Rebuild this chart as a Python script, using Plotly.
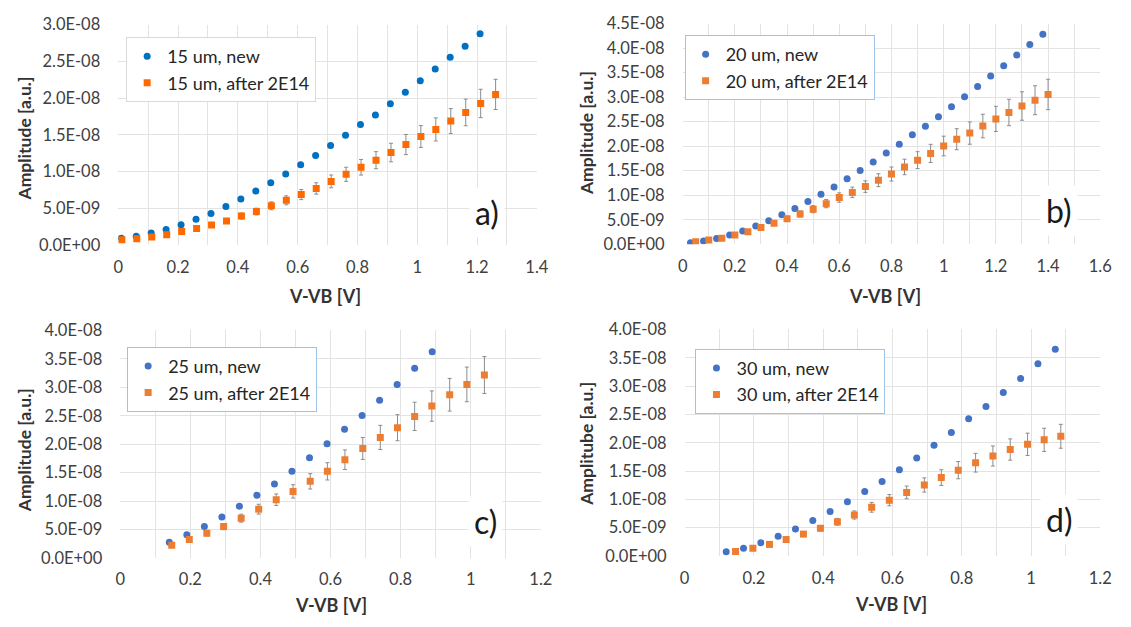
import plotly.graph_objects as go

# ---------------- data ----------------
# panel a) 15 um
a_new_x = [0.01, 0.06, 0.11, 0.16, 0.21, 0.26, 0.31, 0.36, 0.41, 0.46, 0.51, 0.56, 0.61,
           0.66, 0.71, 0.76, 0.81, 0.86, 0.91, 0.96, 1.01, 1.06, 1.11, 1.16, 1.21]
a_new_y = [0.96e-9, 1.22e-9, 1.66e-9, 2.14e-9, 2.79e-9, 3.53e-9, 4.32e-9, 5.28e-9, 6.28e-9,
           7.37e-9, 8.50e-9, 9.68e-9, 10.95e-9, 12.21e-9, 13.56e-9, 14.96e-9, 16.40e-9,
           17.71e-9, 19.23e-9, 20.80e-9, 22.37e-9, 23.94e-9, 25.56e-9, 27.04e-9, 28.74e-9]
a_irr_x = [0.012, 0.062, 0.112, 0.162, 0.212, 0.262, 0.312, 0.362, 0.412, 0.462, 0.512, 0.562,
           0.612, 0.662, 0.712, 0.762, 0.812, 0.862, 0.912, 0.962, 1.012, 1.062, 1.112, 1.162,
           1.212, 1.262]
a_irr_y = [0.74e-9, 0.87e-9, 1.13e-9, 1.44e-9, 1.88e-9, 2.27e-9, 2.75e-9, 3.31e-9, 3.97e-9,
           4.58e-9, 5.36e-9, 6.11e-9, 6.89e-9, 7.72e-9, 8.68e-9, 9.64e-9, 10.60e-9, 11.56e-9,
           12.60e-9, 13.69e-9, 14.78e-9, 15.74e-9, 16.88e-9, 18.05e-9, 19.27e-9, 20.50e-9]
a_irr_err = [0.07e-9, 0.09e-9, 0.11e-9, 0.14e-9, 0.19e-9, 0.23e-9, 0.28e-9, 0.33e-9, 0.40e-9,
             0.46e-9, 0.54e-9, 0.61e-9, 0.69e-9, 0.77e-9, 0.87e-9, 0.96e-9, 1.06e-9, 1.16e-9,
             1.26e-9, 1.37e-9, 1.48e-9, 1.57e-9, 1.69e-9, 1.81e-9, 1.93e-9, 2.05e-9]

# panel b) 20 um
b_new_x = [0.03, 0.08, 0.13, 0.18, 0.23, 0.28, 0.33, 0.38, 0.43, 0.48, 0.53, 0.58, 0.63, 0.68,
           0.73, 0.78, 0.83, 0.88, 0.93, 0.98, 1.03, 1.08, 1.13, 1.18, 1.23, 1.28, 1.33, 1.38]
b_new_y = [0.33e-9, 0.66e-9, 1.18e-9, 1.91e-9, 2.69e-9, 3.75e-9, 4.80e-9, 6.04e-9, 7.29e-9,
           8.74e-9, 10.18e-9, 11.70e-9, 13.34e-9, 15.05e-9, 16.75e-9, 18.59e-9, 20.37e-9,
           22.34e-9, 24.05e-9, 26.02e-9, 28.06e-9, 30.09e-9, 32.19e-9, 34.30e-9, 36.40e-9,
           38.57e-9, 40.74e-9, 42.84e-9]
b_irr_x = [0.05, 0.10, 0.15, 0.20, 0.25, 0.30, 0.35, 0.40, 0.45, 0.50, 0.55, 0.60, 0.65, 0.70,
           0.75, 0.80, 0.85, 0.90, 0.95, 1.00, 1.05, 1.10, 1.15, 1.20, 1.25, 1.30, 1.35, 1.40]
b_irr_y = [0.53e-9, 0.85e-9, 1.25e-9, 1.91e-9, 2.56e-9, 3.42e-9, 4.27e-9, 5.19e-9, 6.18e-9,
           7.16e-9, 8.28e-9, 9.53e-9, 10.58e-9, 11.76e-9, 13.07e-9, 14.32e-9, 15.77e-9,
           17.15e-9, 18.53e-9, 20.04e-9, 21.42e-9, 22.67e-9, 24.11e-9, 25.56e-9, 26.87e-9,
           28.19e-9, 29.37e-9, 30.55e-9]
b_irr_err = [0.05e-9, 0.09e-9, 0.13e-9, 0.19e-9, 0.26e-9, 0.34e-9, 0.43e-9, 0.52e-9, 0.62e-9,
             0.72e-9, 0.83e-9, 0.95e-9, 1.06e-9, 1.18e-9, 1.31e-9, 1.43e-9, 1.58e-9, 1.72e-9,
             1.85e-9, 2.00e-9, 2.14e-9, 2.27e-9, 2.41e-9, 2.56e-9, 2.69e-9, 2.90e-9, 2.95e-9,
             3.10e-9]

# panel c) 25 um
c_new_x = [0.14, 0.19, 0.24, 0.29, 0.34, 0.39, 0.44, 0.49, 0.54, 0.59, 0.64, 0.69, 0.74, 0.79,
           0.84, 0.89]
c_new_y = [2.78e-9, 4.09e-9, 5.51e-9, 7.22e-9, 9.09e-9, 11.02e-9, 13.01e-9, 15.23e-9,
           17.61e-9, 20.06e-9, 22.61e-9, 25.06e-9, 27.73e-9, 30.51e-9, 33.35e-9, 36.25e-9]
c_irr_x = [0.147, 0.197, 0.247, 0.295, 0.345, 0.395, 0.445, 0.493, 0.542, 0.591, 0.641, 0.692,
           0.742, 0.791, 0.840, 0.889, 0.940, 0.989, 1.039]
c_irr_y = [2.22e-9, 3.24e-9, 4.32e-9, 5.51e-9, 6.99e-9, 8.58e-9, 10.23e-9, 11.70e-9, 13.47e-9,
           15.23e-9, 17.27e-9, 19.26e-9, 21.19e-9, 22.90e-9, 24.89e-9, 26.70e-9, 28.69e-9,
           30.51e-9, 32.16e-9]
c_irr_err = [0.22e-9, 0.32e-9, 0.43e-9, 0.55e-9, 0.70e-9, 0.86e-9, 1.02e-9, 1.17e-9, 1.35e-9,
             1.52e-9, 1.73e-9, 1.93e-9, 2.12e-9, 2.29e-9, 2.49e-9, 2.67e-9, 2.87e-9, 3.05e-9,
             3.25e-9]

# panel d) 30 um
d_new_x = [0.12, 0.17, 0.22, 0.27, 0.32, 0.37, 0.42, 0.47, 0.52, 0.57, 0.62, 0.67, 0.72, 0.77,
           0.82, 0.87, 0.92, 0.97, 1.02, 1.07]
d_new_y = [0.74e-9, 1.37e-9, 2.34e-9, 3.48e-9, 4.79e-9, 6.27e-9, 7.86e-9, 9.57e-9, 11.40e-9,
           13.16e-9, 15.21e-9, 17.32e-9, 19.54e-9, 21.82e-9, 24.22e-9, 26.38e-9, 28.89e-9,
           31.34e-9, 33.96e-9, 36.52e-9]
d_irr_x = [0.147, 0.197, 0.245, 0.293, 0.343, 0.392, 0.441, 0.490, 0.540, 0.591, 0.641, 0.692,
           0.741, 0.790, 0.840, 0.890, 0.940, 0.990, 1.038, 1.086]
d_irr_y = [0.80e-9, 1.37e-9, 2.05e-9, 2.91e-9, 3.87e-9, 4.90e-9, 6.04e-9, 7.24e-9, 8.60e-9,
           9.86e-9, 11.23e-9, 12.54e-9, 13.85e-9, 15.16e-9, 16.47e-9, 17.66e-9, 18.80e-9,
           19.72e-9, 20.51e-9, 21.14e-9]
d_irr_err = [0.08e-9, 0.14e-9, 0.21e-9, 0.29e-9, 0.39e-9, 0.49e-9, 0.60e-9, 0.72e-9, 0.86e-9,
             0.99e-9, 1.12e-9, 1.25e-9, 1.39e-9, 1.52e-9, 1.65e-9, 1.77e-9, 1.88e-9, 1.97e-9,
             2.05e-9, 2.11e-9]

# legend names
names_new = ["15 um, new", "20 um, new", "25 um, new", "30 um, new"]
names_irr = ["15 um, after 2E14", "20 um, after 2E14", "25 um, after 2E14", "30 um, after 2E14"]
panel_labels = ["a)", "b)", "c)", "d)"]
y_titles = ["Amplitude [a.u.]", "Amplitude [a.u.]", "Amplitude [a.u.]", "Amplitube [a.u.]"]
x_title = "V-VB [V]"

# tick labels
y_ticks_30 = [0, 5e-9, 10e-9, 15e-9, 20e-9, 25e-9, 30e-9]
y_text_30 = ["0.0E+00", "5.0E-09", "1.0E-08", "1.5E-08", "2.0E-08", "2.5E-08", "3.0E-08"]
y_ticks_45 = [0, 5e-9, 10e-9, 15e-9, 20e-9, 25e-9, 30e-9, 35e-9, 40e-9, 45e-9]
y_text_45 = ["0.0E+00", "5.0E-09", "1.0E-08", "1.5E-08", "2.0E-08", "2.5E-08", "3.0E-08",
             "3.5E-08", "4.0E-08", "4.5E-08"]
y_ticks_40 = [0, 5e-9, 10e-9, 15e-9, 20e-9, 25e-9, 30e-9, 35e-9, 40e-9]
y_text_40 = ["0.0E+00", "5.0E-09", "1.0E-08", "1.5E-08", "2.0E-08", "2.5E-08", "3.0E-08",
             "3.5E-08", "4.0E-08"]

# ---------------- layout geometry (pixels) ----------------
W, H = 1131, 627
FONT = "Lato"
TXT = "#404040"
GRID = "#E3E3E3"

panels = [
    dict(px=(115, 540), py=(15, 243), xmax=1.4, yt=y_ticks_30, ytx=y_text_30,
         blue="#0070C0", orange="#FF6A00", leg=(123, 28), lab=(489, 209),
         yti=(20, 133), xti=(325, 295), lbc="#D9D9D9",
         data=(a_new_x, a_new_y, a_irr_x, a_irr_y, a_irr_err)),
    dict(px=(688, 1112), py=(14, 242), xmax=1.6, yt=y_ticks_45, ytx=y_text_45,
         blue="#4472C4", orange="#ED7D31", leg=(690, 26), lab=(1070, 207),
         yti=(591, 127), xti=(893, 295), lbc="#9DC3E6",
         data=(b_new_x, b_new_y, b_irr_x, b_irr_y, b_irr_err)),
    dict(px=(117, 544), py=(331, 566), xmax=1.2, yt=y_ticks_40, ytx=y_text_40,
         blue="#4472C4", orange="#ED7D31", leg=(124, 348), lab=(488, 528),
         yti=(20, 455), xti=(331, 615), lbc="#9DC3E6",
         data=(c_new_x, c_new_y, c_irr_x, c_irr_y, c_irr_err)),
    dict(px=(690, 1112), py=(330, 564), xmax=1.2, yt=y_ticks_40, ytx=y_text_40,
         blue="#4472C4", orange="#ED7D31", leg=(701, 350), lab=(1070, 526),
         yti=(591, 448), xti=(900, 614), lbc="#9DC3E6",
         data=(d_new_x, d_new_y, d_irr_x, d_irr_y, d_irr_err)),
]

fig = go.Figure()
layout = dict(width=W, height=H, margin=dict(l=0, r=0, t=0, b=0),
              paper_bgcolor="white", plot_bgcolor="white",
              font=dict(family=FONT, size=16, color=TXT), annotations=[])

for i, p in enumerate(panels):
    n = i + 1
    sfx = "" if n == 1 else str(n)
    xa, ya = "x" + sfx, "y" + sfx
    legname = "legend" + sfx
    nx, ny, ix, iy, ie = p["data"]
    fig.add_trace(go.Scatter(
        x=nx, y=ny, mode="markers", name=names_new[i], xaxis=xa, yaxis=ya, legend=legname,
        marker=dict(symbol="circle", size=7, color=p["blue"])))
    fig.add_trace(go.Scatter(
        x=ix, y=iy, mode="markers", name=names_irr[i], xaxis=xa, yaxis=ya, legend=legname,
        marker=dict(symbol="square", size=7, color=p["orange"]),
        error_y=dict(type="data", array=ie, visible=True, color="#8C8C8C",
                     thickness=1, width=2)))
    x0, x1 = p["px"]
    yt, yb = p["py"]
    layout["xaxis" + sfx] = dict(
        domain=[x0 / W, x1 / W], anchor=ya, range=[0, p["xmax"]], tick0=0, dtick=0.2,
        showgrid=True, gridcolor=GRID, gridwidth=1, zeroline=False, showline=False,
        ticks="", ticklabelstandoff=10, tickfont=dict(family=FONT, size=16.5, color=TXT),
        minor=dict(dtick=0.1, showgrid=True, gridcolor=GRID, gridwidth=1, ticks=""))
    layout["yaxis" + sfx] = dict(
        domain=[1 - yb / H, 1 - yt / H], anchor=xa, range=[0, p["yt"][-1]],
        tickvals=p["yt"], ticktext=p["ytx"],
        showgrid=True, gridcolor=GRID, gridwidth=1, zeroline=False, showline=False,
        ticks="", ticklabelstandoff=17, tickfont=dict(family=FONT, size=16.5, color=TXT))
    lx, ly = p["leg"]
    layout[legname] = dict(
        x=lx / W, y=1 - ly / H, xanchor="left", yanchor="top", xref="paper", yref="paper",
        bgcolor="white", bordercolor=p["lbc"], borderwidth=1,
        font=dict(family=FONT, size=18, color="#262626"), tracegroupgap=0,
        itemsizing="trace")
    cx, cy = p["lab"]
    layout["annotations"].append(dict(
        text=panel_labels[i], x=cx / W, y=1 - cy / H, xref="paper", yref="paper",
        showarrow=False, font=dict(family=FONT, size=32, color="#1a1a1a"),
        bgcolor="white", borderpad=5, xanchor="center", yanchor="middle"))
    tx, ty = p["yti"]
    layout["annotations"].append(dict(
        text="<b>" + y_titles[i] + "</b>", x=tx / W, y=1 - ty / H, xref="paper", yref="paper",
        showarrow=False, textangle=-90, font=dict(family=FONT, size=17.5, color="#333333"),
        xanchor="center", yanchor="middle"))
    tx, ty = p["xti"]
    layout["annotations"].append(dict(
        text="<b>" + x_title + "</b>", x=tx / W, y=1 - ty / H, xref="paper", yref="paper",
        showarrow=False, font=dict(family=FONT, size=18, color="#333333"),
        xanchor="center", yanchor="middle"))

fig.update_layout(**layout)
page_fix = (
    "var s=document.createElement('style');"
    "s.textContent='html,body{margin:0!important;padding:0!important;"
    "width:1131px;height:627px;overflow:hidden;}';"
    "document.head.appendChild(s);"
)
fig.write_html("out.html", config={"displayModeBar": False}, post_script=page_fix)
